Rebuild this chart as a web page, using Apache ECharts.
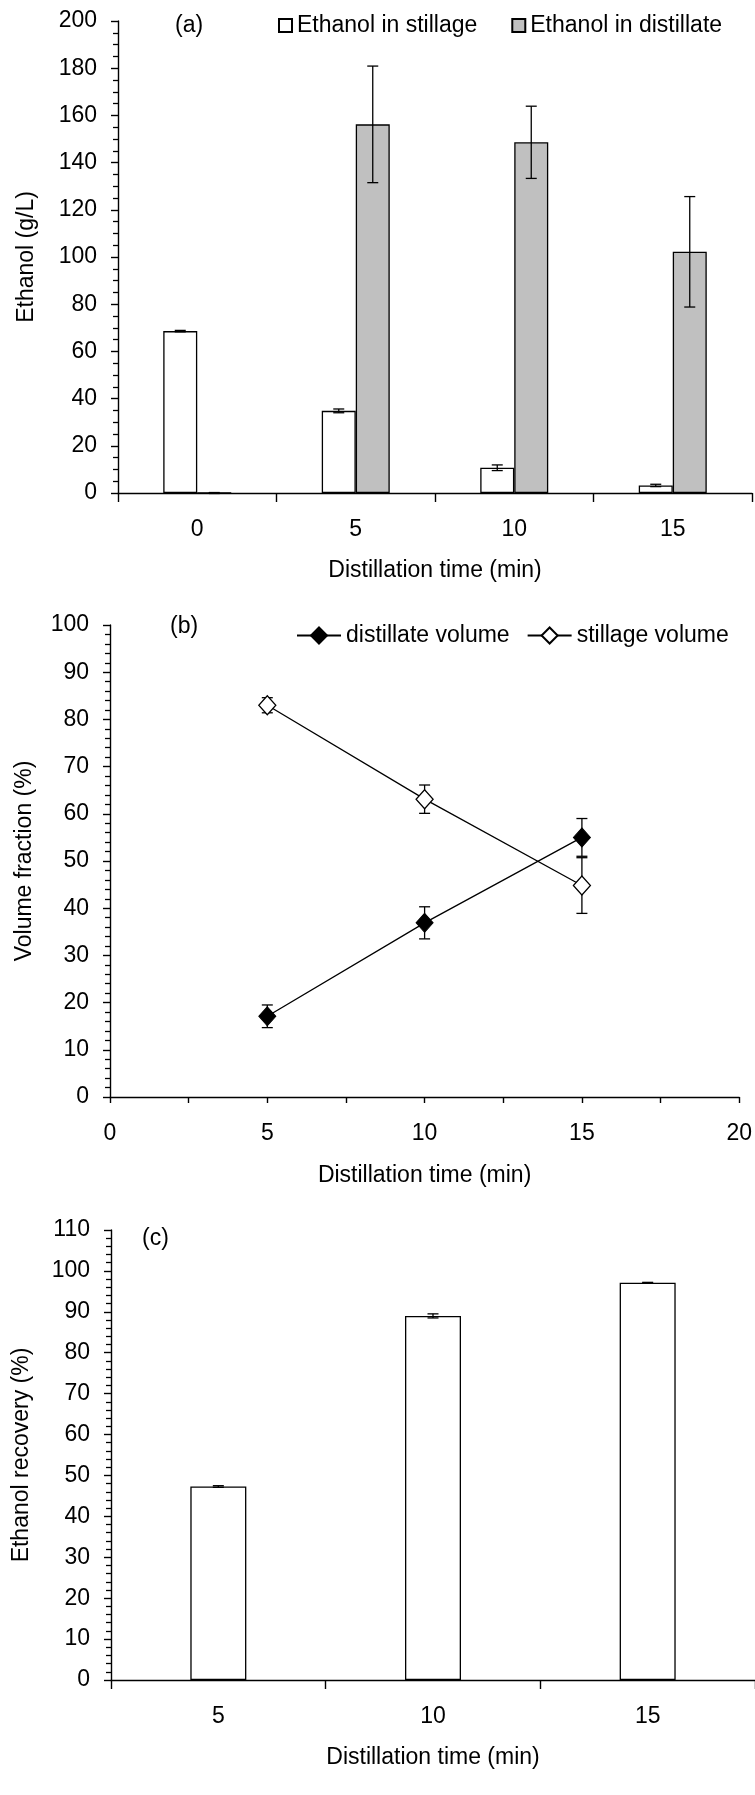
<!DOCTYPE html>
<html>
<head>
<meta charset="utf-8">
<script src="https://cdn.jsdelivr.net/npm/echarts@6/dist/echarts.min.js"></script>
<style>
  html, body { margin: 0; padding: 0; background: #fff; }
  #chart { width: 755px; height: 1795px; }
</style>
</head>
<body>
<div id="chart"></div>
<script>
// (a) ethanol concentration in stillage and distillate, g/L
const timesA = ['0', '5', '10', '15'];
const stillageEtoh = [68.6, 34.8, 10.7, 3.2];
const stillageEtohErr = [0.3, 0.8, 1.2, 0.5];
const distillateEtoh = [0, 156.2, 148.6, 102.2];
const distillateEtohErr = [0.2, 24.7, 15.3, 23.4];

// (b) volume fractions, %
const timesB = [5, 10, 15];
const distillateVol = [17.1, 36.9, 55.0];
const distillateVolErr = [2.4, 3.4, 4.0];
const stillageVol = [83.0, 63.1, 44.8];
const stillageVolErr = [1.6, 3.0, 5.9];

// (c) ethanol recovery, %
const timesC = ['5', '10', '15'];
const recovery = [47.3, 89.0, 97.1];
const recoveryErr = [0.2, 0.5, 0.1];

const FONT = "'Liberation Sans', Arial, sans-serif";
const FS = 23;
const BLACK = '#000';

const txt = { color: BLACK, fontFamily: FONT, fontSize: FS };

function yAxis(gridIndex, min, max, interval, minorSplit, name, nameGap) {
  return {
    type: 'value', gridIndex, min, max, interval,
    name, nameLocation: 'middle', nameGap, nameTextStyle: txt,
    axisLine: { show: true, lineStyle: { color: BLACK, width: 1.4 } },
    axisTick: { show: true, length: 7, lineStyle: { color: BLACK, width: 1.4 } },
    minorTick: { show: true, splitNumber: minorSplit, length: 5, lineStyle: { color: BLACK, width: 1.3 } },
    axisLabel: Object.assign({ margin: 21 }, txt),
    splitLine: { show: false }
  };
}

function catAxis(gridIndex, data, name) {
  return {
    type: 'category', gridIndex, data,
    name, nameLocation: 'middle', nameGap: 66, nameTextStyle: txt,
    axisLine: { show: true, lineStyle: { color: BLACK, width: 1.4 } },
    axisTick: { show: true, alignWithLabel: false, length: 9, lineStyle: { color: BLACK, width: 1.4 } },
    axisLabel: Object.assign({ margin: 25 }, txt),
    splitLine: { show: false }
  };
}

// vertical error bar with caps; dx shifts it onto a grouped bar
function errorBars(xIdx, yIdx, xs, vals, errs, dx, z) {
  return {
    type: 'custom', xAxisIndex: xIdx, yAxisIndex: yIdx, z, silent: true,
    data: xs.map((x, i) => [x, vals[i] - errs[i], vals[i] + errs[i]]),
    encode: { x: 0, y: [1, 2] },
    renderItem(params, api) {
      const lo = api.coord([api.value(0), api.value(1)]);
      const hi = api.coord([api.value(0), api.value(2)]);
      const x = lo[0] + dx, h = 5.5;
      const style = { stroke: BLACK, lineWidth: 1.3 };
      return {
        type: 'group',
        children: [
          { type: 'line', shape: { x1: x, y1: lo[1], x2: x, y2: hi[1] }, style },
          { type: 'line', shape: { x1: x - h, y1: lo[1], x2: x + h, y2: lo[1] }, style },
          { type: 'line', shape: { x1: x - h, y1: hi[1], x2: x + h, y2: hi[1] }, style }
        ]
      };
    }
  };
}

const chart = echarts.init(document.getElementById('chart'), null, { renderer: 'canvas' });

const option = {
  backgroundColor: '#fff',
  animation: false,
  textStyle: { fontFamily: FONT, color: BLACK },
  title: [
    { text: '(a)', left: 170, top: 9, textStyle: Object.assign({ fontWeight: 'normal' }, txt) },
    { text: '(b)', left: 165, top: 610, textStyle: Object.assign({ fontWeight: 'normal' }, txt) },
    { text: '(c)', left: 137, top: 1222, textStyle: Object.assign({ fontWeight: 'normal' }, txt) }
  ],
  legend: [
    {
      data: ['Ethanol in stillage', 'Ethanol in distillate'],
      left: 273, top: 9, icon: 'rect', itemWidth: 13, itemHeight: 13, itemGap: 34,
      textStyle: txt
    },
    {
      data: ['distillate volume', 'stillage volume'],
      left: 291, top: 619, itemWidth: 44, itemHeight: 20, itemGap: 17,
      textStyle: txt
    }
  ],
  grid: [
    { left: 118, top: 21, width: 634, height: 472 },
    { left: 110, top: 625, width: 632, height: 472 },
    { left: 111, top: 1230, width: 646, height: 450 }
  ],
  xAxis: [
    catAxis(0, timesA, 'Distillation time (min)'),
    {
      type: 'value', gridIndex: 1, min: 0, max: 20, interval: 2.5,
      name: 'Distillation time (min)', nameLocation: 'middle', nameGap: 67, nameTextStyle: txt,
      axisLine: { show: true, lineStyle: { color: BLACK, width: 1.4 } },
      axisTick: { show: true, length: 6, lineStyle: { color: BLACK, width: 1.4 } },
      axisLabel: Object.assign({ margin: 25, formatter: v => (v % 5 === 0 ? String(v) : '') }, txt),
      splitLine: { show: false }
    },
    catAxis(2, timesC, 'Distillation time (min)')
  ],
  yAxis: [
    yAxis(0, 0, 200, 20, 4, 'Ethanol (g/L)', 80),
    yAxis(1, 0, 100, 10, 5, 'Volume fraction (%)', 74),
    yAxis(2, 0, 110, 10, 5, 'Ethanol recovery (%)', 78)
  ],
  series: [
    {
      name: 'Ethanol in stillage', type: 'bar', xAxisIndex: 0, yAxisIndex: 0,
      data: stillageEtoh, barWidth: 34, barGap: '0%',
      itemStyle: { color: '#fff', borderColor: BLACK, borderWidth: 1.3 }
    },
    {
      name: 'Ethanol in distillate', type: 'bar', xAxisIndex: 0, yAxisIndex: 0,
      data: distillateEtoh, barWidth: 34, barGap: '0%',
      itemStyle: { color: '#c0c0c0', borderColor: BLACK, borderWidth: 1.3 }
    },
    errorBars(0, 0, timesA.map((_, i) => i), stillageEtoh, stillageEtohErr, -17, 5),
    errorBars(0, 0, timesA.map((_, i) => i), distillateEtoh, distillateEtohErr, 17, 5),

    errorBars(1, 1, timesB, distillateVol, distillateVolErr, 0, 1),
    errorBars(1, 1, timesB, stillageVol, stillageVolErr, 0, 1),
    {
      name: 'distillate volume', type: 'line', xAxisIndex: 1, yAxisIndex: 1, z: 3,
      data: timesB.map((t, i) => [t, distillateVol[i]]),
      symbol: 'diamond', symbolSize: [17, 19],
      lineStyle: { color: BLACK, width: 1.3 },
      itemStyle: { color: BLACK, borderColor: BLACK, borderWidth: 1 }
    },
    {
      name: 'stillage volume', type: 'line', xAxisIndex: 1, yAxisIndex: 1, z: 3,
      data: timesB.map((t, i) => [t, stillageVol[i]]),
      symbol: 'diamond', symbolSize: [17, 19],
      lineStyle: { color: BLACK, width: 1.3 },
      itemStyle: { color: '#fff', borderColor: BLACK, borderWidth: 1.3 }
    },

    {
      name: 'Ethanol recovery', type: 'bar', xAxisIndex: 2, yAxisIndex: 2,
      data: recovery, barWidth: 56,
      itemStyle: { color: '#fff', borderColor: BLACK, borderWidth: 1.3 }
    },
    errorBars(2, 2, timesC.map((_, i) => i), recovery, recoveryErr, 0, 5)
  ]
};

chart.setOption(option);
</script>
</body>
</html>
